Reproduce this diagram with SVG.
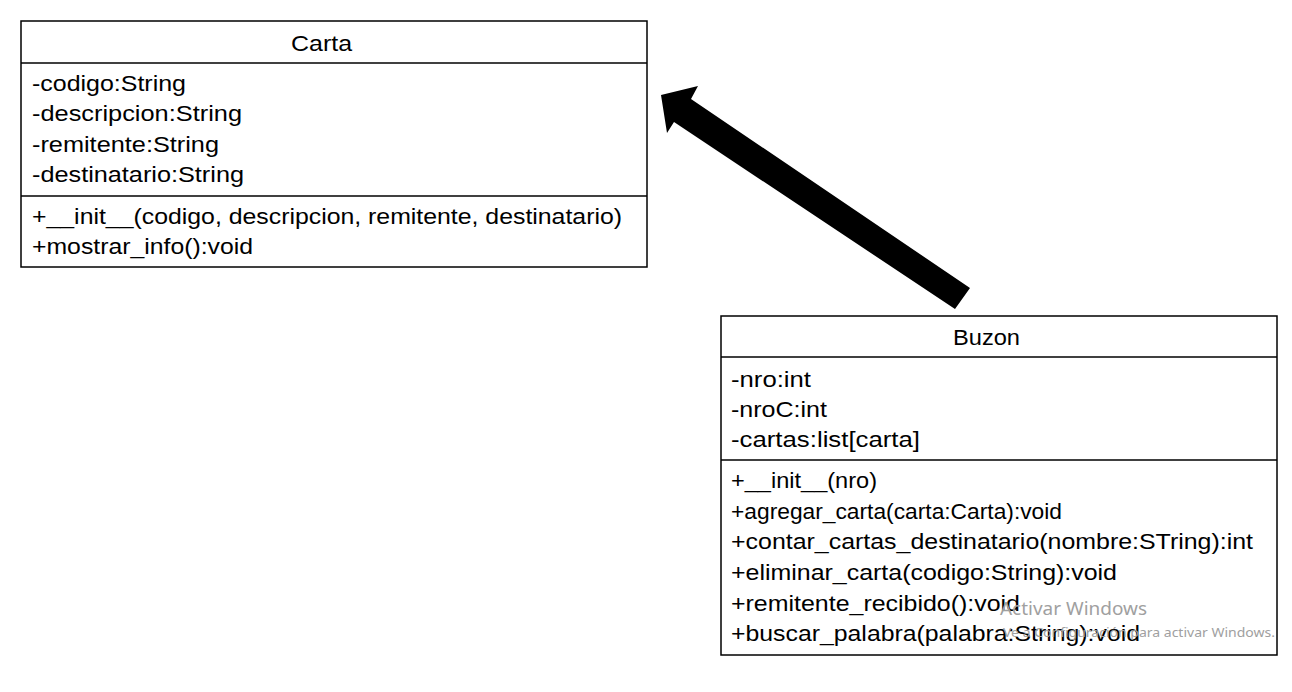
<svg xmlns="http://www.w3.org/2000/svg" width="1292" height="692" viewBox="0 0 1292 692">
<style>
.box{fill:#fff;stroke:#000;stroke-width:1.5}
.ln{stroke:#000;stroke-width:1.5}
.t{font-family:"Liberation Sans",Arial,sans-serif;font-size:22px;fill:#000}
.wm{font-family:"Segoe UI","Noto Sans","Liberation Sans",sans-serif;fill:#a0a0a0}
</style>
<rect width="1292" height="692" fill="#fff"/>
<g id="connectors">
<polygon points="661,95 698,86 691,99 970,288 955,309 674,122 667,133" fill="#000"/>
</g>
<g id="carta">
<rect class="box" x="21" y="21" width="626" height="246"/>
<line class="ln" x1="21" y1="63" x2="647" y2="63"/>
<line class="ln" x1="21" y1="196" x2="647" y2="196"/>
<text class="t" x="291" y="51" textLength="61" lengthAdjust="spacingAndGlyphs">Carta</text>
<text class="t" x="32" y="91" textLength="154" lengthAdjust="spacingAndGlyphs">-codigo:String</text>
<text class="t" x="32" y="121" textLength="210" lengthAdjust="spacingAndGlyphs">-descripcion:String</text>
<text class="t" x="32" y="152" textLength="187" lengthAdjust="spacingAndGlyphs">-remitente:String</text>
<text class="t" x="32" y="182" textLength="212" lengthAdjust="spacingAndGlyphs">-destinatario:String</text>
<text class="t" x="32" y="224" textLength="590" lengthAdjust="spacingAndGlyphs">+__init__(codigo, descripcion, remitente, destinatario)</text>
<text class="t" x="32" y="254" textLength="221" lengthAdjust="spacingAndGlyphs">+mostrar_info():void</text>
</g>
<g id="buzon">
<rect class="box" x="721" y="316" width="556" height="339"/>
<line class="ln" x1="721" y1="357" x2="1277" y2="357"/>
<line class="ln" x1="721" y1="460" x2="1277" y2="460"/>
<text class="t" x="953" y="345" textLength="67" lengthAdjust="spacingAndGlyphs">Buzon</text>
<text class="t" x="731" y="387" textLength="80" lengthAdjust="spacingAndGlyphs">-nro:int</text>
<text class="t" x="731" y="417" textLength="96" lengthAdjust="spacingAndGlyphs">-nroC:int</text>
<text class="t" x="731" y="447" textLength="189" lengthAdjust="spacingAndGlyphs">-cartas:list[carta]</text>
<text class="t" x="731" y="488" textLength="146" lengthAdjust="spacingAndGlyphs">+__init__(nro)</text>
<text class="t" x="731" y="519" textLength="331" lengthAdjust="spacingAndGlyphs">+agregar_carta(carta:Carta):void</text>
<text class="t" x="731" y="549" textLength="522" lengthAdjust="spacingAndGlyphs">+contar_cartas_destinatario(nombre:STring):int</text>
<text class="t" x="731" y="580" textLength="386" lengthAdjust="spacingAndGlyphs">+eliminar_carta(codigo:String):void</text>
<text class="t" x="731" y="611" textLength="289" lengthAdjust="spacingAndGlyphs">+remitente_recibido():void</text>
<text class="t" x="731" y="641" textLength="409" lengthAdjust="spacingAndGlyphs">+buscar_palabra(palabra:String):void</text>
</g>
<g id="watermark">
<text class="wm" x="1000" y="615" font-size="18" textLength="147" lengthAdjust="spacingAndGlyphs">Activar Windows</text>
<text class="wm" x="1003" y="637" font-size="12" textLength="272" lengthAdjust="spacingAndGlyphs">Ve a Configuración para activar Windows.</text>
</g>
</svg>
